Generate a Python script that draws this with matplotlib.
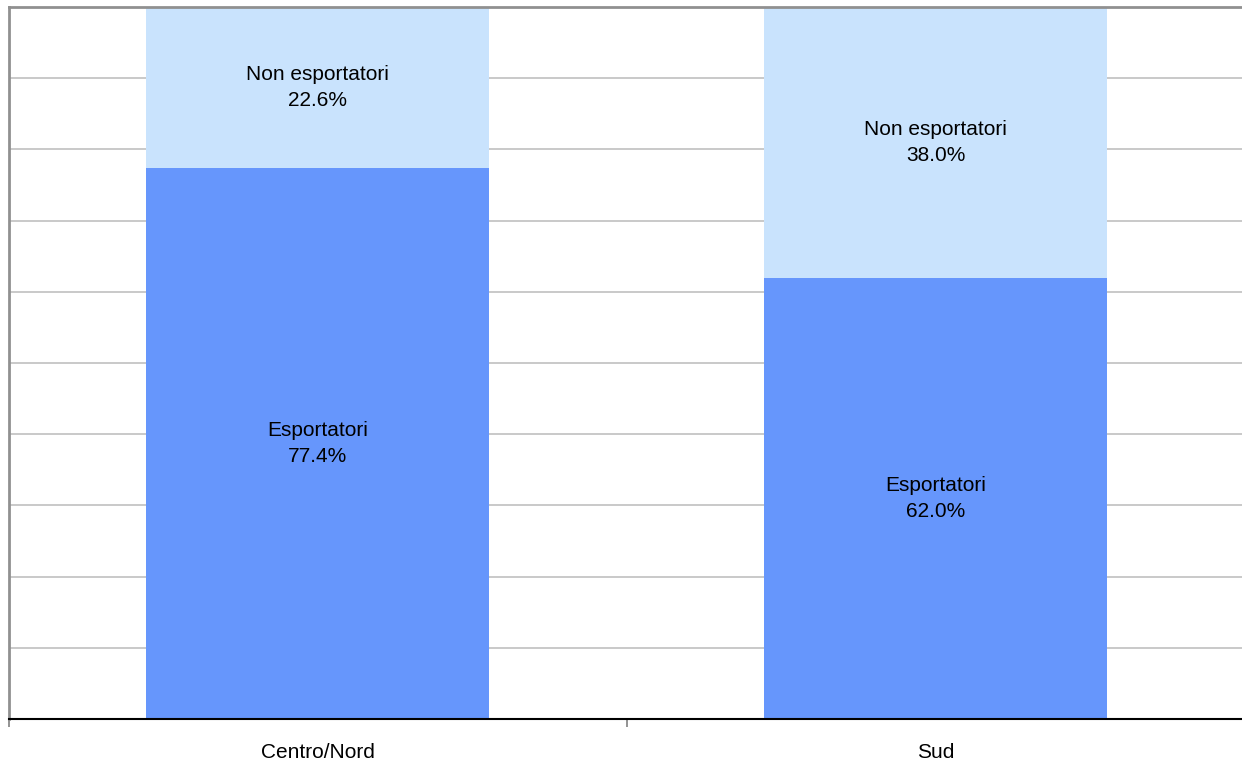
import matplotlib
matplotlib.use("Agg")
import matplotlib.pyplot as plt
import numpy as np

categories = ["Centro/Nord", "Sud"]
esportatori = [77.4, 62.0]
non_esportatori = [22.6, 38.0]
series_names = ["Esportatori", "Non esportatori"]

dark_blue = "#6696FC"
light_blue = "#C9E3FD"

plt.rcParams["font.family"] = ["Liberation Sans", "DejaVu Sans"]

W, H = 1242, 762
fig = plt.figure(figsize=(W / 100, H / 100), dpi=100)
ax = fig.add_axes([8.5 / W, 43 / H, 1236 / W, 712 / H])

x = np.arange(len(categories))
width = 0.555
ax.bar(x, esportatori, width, color=dark_blue, zorder=2)
ax.bar(x, non_esportatori, width, bottom=esportatori, color=light_blue, zorder=2)

for i in range(len(categories)):
    ax.text(x[i], esportatori[i] / 2, f"{series_names[0]}\n{esportatori[i]:.1f}%",
            ha="center", va="center", fontsize=15, linespacing=1.47, zorder=3)
    ax.text(x[i], esportatori[i] + non_esportatori[i] / 2,
            f"{series_names[1]}\n{non_esportatori[i]:.1f}%",
            ha="center", va="center", fontsize=15, linespacing=1.47, zorder=3)

ax.set_xlim(-0.5, 1.5)
ax.set_ylim(0, 100)
ax.set_yticks(np.arange(0, 101, 10))
ax.yaxis.grid(True, color="#c0c0c0", linewidth=1.2, zorder=0)
ax.tick_params(axis="y", length=0, labelleft=False)

ax.set_xticks([-0.5, 0.5, 1.5], minor=False)
ax.set_xticklabels([])
ax.set_xticks(x, minor=True)
ax.set_xticklabels(categories, minor=True, fontsize=15)
ax.tick_params(axis="x", which="major", length=6, width=1.2, color="#808080", direction="out")
ax.tick_params(axis="x", which="minor", length=0, pad=17)

ax.spines["left"].set_color("#909090")
ax.spines["left"].set_linewidth(2)
ax.spines["top"].set_color("#909090")
ax.spines["top"].set_linewidth(2)
ax.spines["right"].set_visible(False)
ax.spines["bottom"].set_color("black")
ax.spines["bottom"].set_linewidth(1.5)

fig.savefig("out.png", dpi=100)
